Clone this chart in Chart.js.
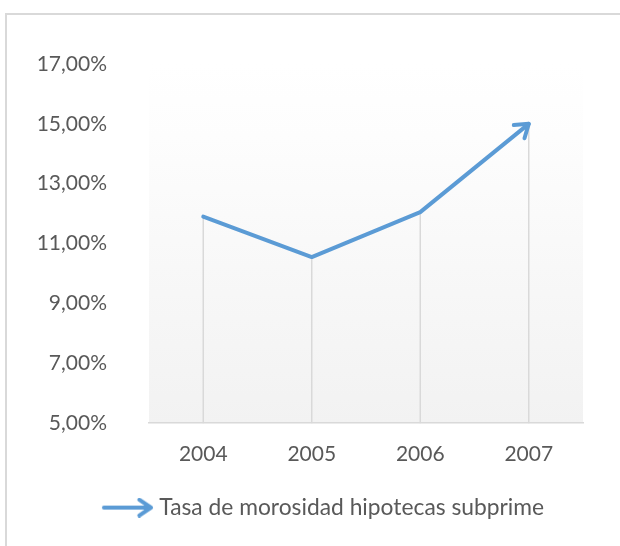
<!DOCTYPE html>
<html>
<head>
<meta charset="utf-8">
<script src="https://cdn.jsdelivr.net/npm/chart.js@4/dist/chart.umd.min.js"></script>
<style>
  html, body { margin: 0; padding: 0; background: #fff; }
  #wrap { position: relative; width: 620px; height: 546px; }
  #frame { position: absolute; left: 5px; top: 13px; width: 640px; height: 560px;
           border-left: 2px solid #d9d9d9; border-top: 2px solid #d9d9d9; box-sizing: border-box; }
  canvas { position: absolute; left: 0; top: 0; }
</style>
</head>
<body>
<div id="wrap">
  <div id="frame"></div>
  <canvas id="c" width="620" height="546"></canvas>
</div>
<script>
const categories = ['2004', '2005', '2006', '2007'];
const seriesName = 'Tasa de morosidad hipotecas subprime';
const seriesValues = [11.9, 10.55, 12.05, 15.0];
const yTicks = [5, 7, 9, 11, 13, 15, 17];

const LINE_COLOR = '#5b9bd5';
const TEXT_COLOR = '#595959';
const FONT = "Lato, 'Open Sans', sans-serif";
const FONT_SIZE = 21;
const LEGEND_FONT_SIZE = 22.8;

function drawChevron(ctx, tipX, tipY, angle, len, spread) {
  ctx.beginPath();
  ctx.moveTo(tipX - len * Math.cos(angle - spread), tipY - len * Math.sin(angle - spread));
  ctx.lineTo(tipX, tipY);
  ctx.lineTo(tipX - len * Math.cos(angle + spread), tipY - len * Math.sin(angle + spread));
  ctx.stroke();
}

// legend arrow icon
const icon = document.createElement('canvas');
icon.width = 56; icon.height = 20;
(function () {
  const g = icon.getContext('2d');
  g.strokeStyle = LINE_COLOR; g.lineWidth = 4; g.lineCap = 'round'; g.lineJoin = 'round';
  g.beginPath(); g.moveTo(6, 10); g.lineTo(52, 10); g.stroke();
  drawChevron(g, 53, 10, 0, 14, 0.6);
})();

const bgPlugin = {
  id: 'plotBg',
  beforeDraw(chart) {
    const { ctx, chartArea: a } = chart;
    const grad = ctx.createLinearGradient(0, a.top, 0, a.bottom);
    grad.addColorStop(0, '#ffffff');
    grad.addColorStop(0.2, '#fdfdfd');
    grad.addColorStop(1, '#f2f2f2');
    ctx.save();
    ctx.fillStyle = grad;
    ctx.fillRect(a.left, a.top, a.right - a.left, a.bottom - a.top);
    ctx.restore();
  }
};

// shift the legend box so it is centred like the reference
const legendShift = {
  id: 'legendShift',
  afterLayout(chart) {
    if (chart.legend) { chart.legend.left += 45; }
  }
};

const dropPlugin = {
  id: 'dropLines',
  beforeDatasetsDraw(chart) {
    const { ctx, chartArea: a } = chart;
    const meta = chart.getDatasetMeta(0);
    ctx.save();
    ctx.strokeStyle = '#d9d9d9';
    ctx.lineWidth = 1.5;
    meta.data.forEach(p => {
      ctx.beginPath();
      ctx.moveTo(p.x, p.y);
      ctx.lineTo(p.x, a.bottom);
      ctx.stroke();
    });
    ctx.restore();
  }
};

const arrowPlugin = {
  id: 'arrowHead',
  afterDatasetsDraw(chart) {
    const { ctx } = chart;
    const pts = chart.getDatasetMeta(0).data;
    const p1 = pts[pts.length - 2], p2 = pts[pts.length - 1];
    const ang = Math.atan2(p2.y - p1.y, p2.x - p1.x);
    ctx.save();
    ctx.strokeStyle = LINE_COLOR; ctx.lineWidth = 4; ctx.lineCap = 'round'; ctx.lineJoin = 'round';
    drawChevron(ctx, p2.x, p2.y, ang, 15, 0.6);
    ctx.restore();
  }
};

new Chart(document.getElementById('c'), {
  type: 'line',
  data: {
    labels: categories,
    datasets: [{
      label: seriesName,
      data: seriesValues,
      borderColor: LINE_COLOR,
      backgroundColor: LINE_COLOR,
      borderWidth: 4,
      borderCapStyle: 'round',
      borderJoinStyle: 'round',
      pointRadius: 0,
      tension: 0,
      fill: false
    }]
  },
  options: {
    responsive: false,
    animation: false,
    layout: { padding: { top: 64, right: 37, left: 20, bottom: 17 } },
    plugins: {
      tooltip: { enabled: false },
      legend: {
        position: 'bottom',
        labels: {
          usePointStyle: true,
          pointStyleWidth: 44,
          padding: 14,
          color: TEXT_COLOR,
          font: { family: FONT, size: LEGEND_FONT_SIZE },
          generateLabels(chart) {
            return [{
              text: seriesName,
              pointStyle: icon,
              fillStyle: LINE_COLOR,
              strokeStyle: LINE_COLOR,
              lineWidth: 0,
              fontColor: TEXT_COLOR,
              datasetIndex: 0,
              hidden: false
            }];
          }
        }
      }
    },
    scales: {
      x: {
        offset: true,
        grid: { display: false, drawTicks: false },
        border: { color: '#d9d9d9', width: 1.5 },
        ticks: { color: TEXT_COLOR, font: { family: FONT, size: FONT_SIZE }, padding: 18 },
        afterFit(s) { s.height = 59; }
      },
      y: {
        min: 5, max: 17,
        afterBuildTicks(s) { s.ticks = yTicks.map(v => ({ value: v })); },
        grid: { display: false, drawTicks: false },
        border: { display: false },
        ticks: {
          color: TEXT_COLOR, font: { family: FONT, size: FONT_SIZE }, padding: 42,
          callback: v => v.toFixed(2).replace('.', ',') + '%'
        },
        afterFit(s) { s.width = 129; }
      }
    }
  },
  plugins: [bgPlugin, legendShift, dropPlugin, arrowPlugin]
});
</script>
</body>
</html>
